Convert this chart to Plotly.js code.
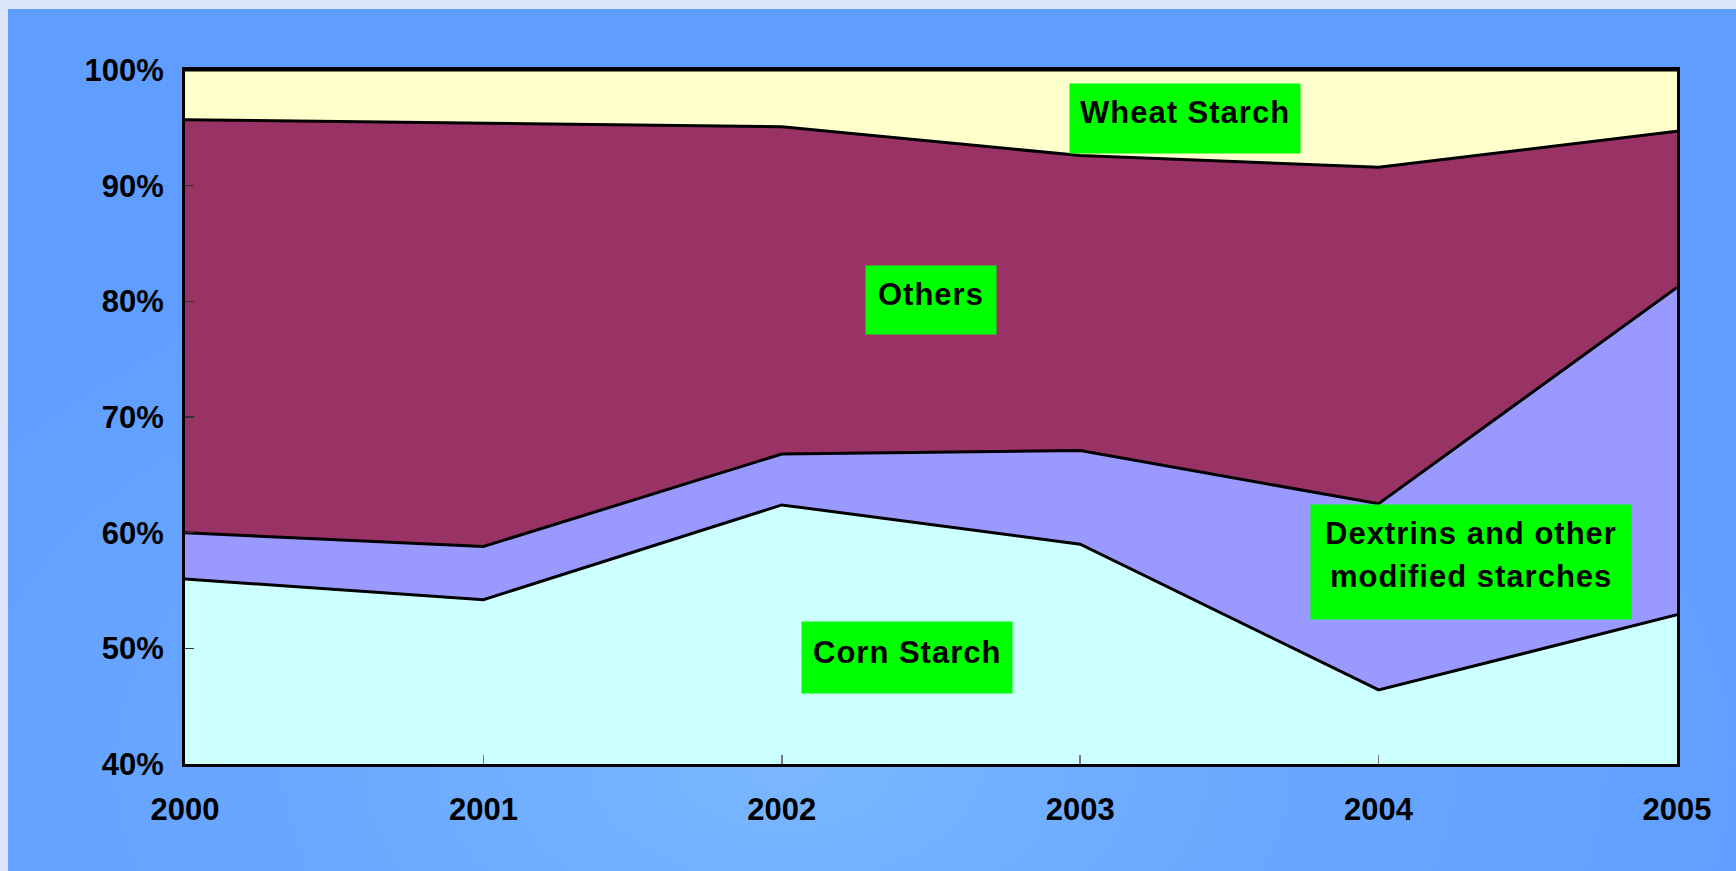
<!DOCTYPE html>
<html>
<head>
<meta charset="utf-8">
<script src="https://cdn.plot.ly/plotly-3.0.1.min.js"></script>
<style>
  html, body { margin: 0; padding: 0; width: 1736px; height: 871px; overflow: hidden; background: #dde6fb; }
  #panel { position: absolute; left: 8px; top: 9px; width: 1728px; height: 862px;
           background: radial-gradient(ellipse 60% 70% at 45% 88%, #7ab7ff 0%, #6aa8ff 45%, #5f9eff 100%); }
  #chart { position: absolute; left: 0; top: 0; width: 1736px; height: 871px; }
  .annotation-text { letter-spacing: 1px; }
</style>
</head>
<body>
<div id="panel"></div>
<div id="chart"></div>
<script>
const years = [2000, 2001, 2002, 2003, 2004, 2005];
const yearLabels = ["2000", "2001", "2002", "2003", "2004", "2005"];
const cornStarch = [56.0, 54.2, 62.4, 59.0, 46.4, 52.9];
const dextrins = [4.0, 4.6, 4.4, 8.1, 16.1, 28.3];
const others = [35.7, 36.6, 28.3, 25.5, 29.1, 13.5];
const wheatStarch = [4.3, 4.6, 4.9, 7.4, 8.4, 5.3];
const yTicks = [40, 50, 60, 70, 80, 90, 100];
const yTickLabels = ["40%", "50%", "60%", "70%", "80%", "90%", "100%"];

const seriesNames = ["Corn Starch", "Dextrins and other modified starches", "Others", "Wheat Starch"];
const seriesValues = [cornStarch, dextrins, others, wheatStarch];
const seriesColors = ["#ccffff", "#9999ff", "#993366", "#ffffcc"];

const traces = seriesValues.map((vals, i) => ({
  type: "scatter",
  mode: "lines",
  x: years,
  y: vals,
  name: seriesNames[i],
  stackgroup: "one",
  fillcolor: seriesColors[i],
  line: { color: "#000000", width: 3 },
  hoverinfo: "x+y+name"
}));

const labelFont = { family: "Liberation Sans, Arial, sans-serif", size: 31, color: "#000000", weight: 700 };

// green label boxes
const boxes = [
  { x: 2003.35, y: 95.85, width: 230, height: 69 },
  { x: 2002.50, y: 80.1, width: 130, height: 68 },
  { x: 2002.42, y: 49.2, width: 210, height: 71 },
  { x: 2004.31, y: 57.5, width: 320, height: 114 }
].map(a => Object.assign({
  text: " ", xref: "x", yref: "y", showarrow: false, bgcolor: "#00ff00", borderpad: 0,
  font: labelFont, xanchor: "center", yanchor: "middle"
}, a));

// label texts
const texts = [
  { text: "Wheat Starch", x: 2003.35, y: 96.35 },
  { text: "Others", x: 2002.50, y: 80.6 },
  { text: "Corn Starch", x: 2002.42, y: 49.65 },
  { text: "Dextrins and other", x: 2004.31, y: 59.9 },
  { text: "modified starches", x: 2004.31, y: 56.2 }
].map(a => Object.assign({
  xref: "x", yref: "y", showarrow: false, font: labelFont,
  xanchor: "center", yanchor: "middle", align: "center"
}, a));

const tickFont = { family: "Liberation Sans, Arial, sans-serif", size: 31, color: "#000000", weight: 700 };

const layout = {
  width: 1736, height: 871,
  paper_bgcolor: "rgba(0,0,0,0)",
  plot_bgcolor: "#ffffff",
  showlegend: false,
  margin: { l: 185, r: 59, t: 70, b: 107, pad: 0 },
  xaxis: {
    type: "linear", range: [2000, 2005],
    tickmode: "array", tickvals: years, ticktext: yearLabels,
    ticks: "inside", ticklen: 9, tickwidth: 1.5, tickcolor: "#777777",
    tickfont: tickFont, ticklabelstandoff: 16,
    showgrid: false, zeroline: false,
    showline: true, mirror: true, linecolor: "#000000", linewidth: 3
  },
  yaxis: {
    range: [40, 100],
    tickmode: "array", tickvals: yTicks, ticktext: yTickLabels,
    ticks: "inside", ticklen: 9, tickwidth: 1.5, tickcolor: "#333333",
    tickfont: tickFont, ticklabelstandoff: 12,
    showgrid: false, zeroline: false,
    showline: true, mirror: true, linecolor: "#000000", linewidth: 3
  },
  annotations: boxes.concat(texts)
};

Plotly.newPlot("chart", traces, layout, { displayModeBar: false, staticPlot: true });
</script>
</body>
</html>
